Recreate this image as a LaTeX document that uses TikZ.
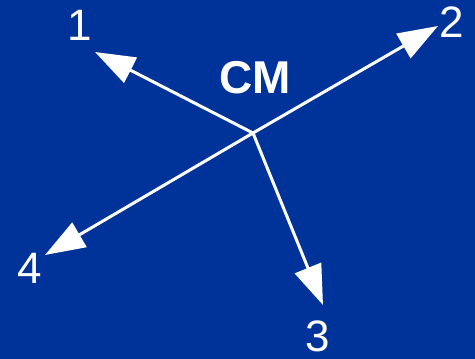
\documentclass[tikz,border=0pt]{standalone}
\usepackage{fontspec}
\setmainfont{Liberation Sans}
\usetikzlibrary{arrows.meta}
\definecolor{bg}{RGB}{0,51,153}
\begin{document}
\begin{tikzpicture}[x=1pt,y=-1pt,
  vec/.style={draw=white,line width=3pt,-{Triangle[length=40pt,width=28pt]}},
  lbl/.style={text=white,font=\fontsize{44}{44}\selectfont,inner sep=0pt}]
\fill[bg] (0,0) rectangle (475,359);
\useasboundingbox (0,0) rectangle (475,359);
\coordinate (c) at (253,133);
\coordinate (t1) at (95,52);
\coordinate (t2) at (438,26);
\coordinate (t3) at (323,305);
\coordinate (t4) at (45,255);
\draw[vec] (c) -- (t1);
\draw[vec] (c) -- (t2);
\draw[vec] (c) -- (t3);
\draw[vec] (c) -- (t4);
\node[lbl] (l1) at (80,25) {1};
\node[lbl] (l2) at (452,22) {2};
\node[lbl] (l3) at (318,336) {3};
\node[lbl] (l4) at (30,268) {4};
\node[lbl,font=\fontsize{46}{46}\selectfont\bfseries] (cm) at (255,78) {CM};
\end{tikzpicture}
\end{document}
